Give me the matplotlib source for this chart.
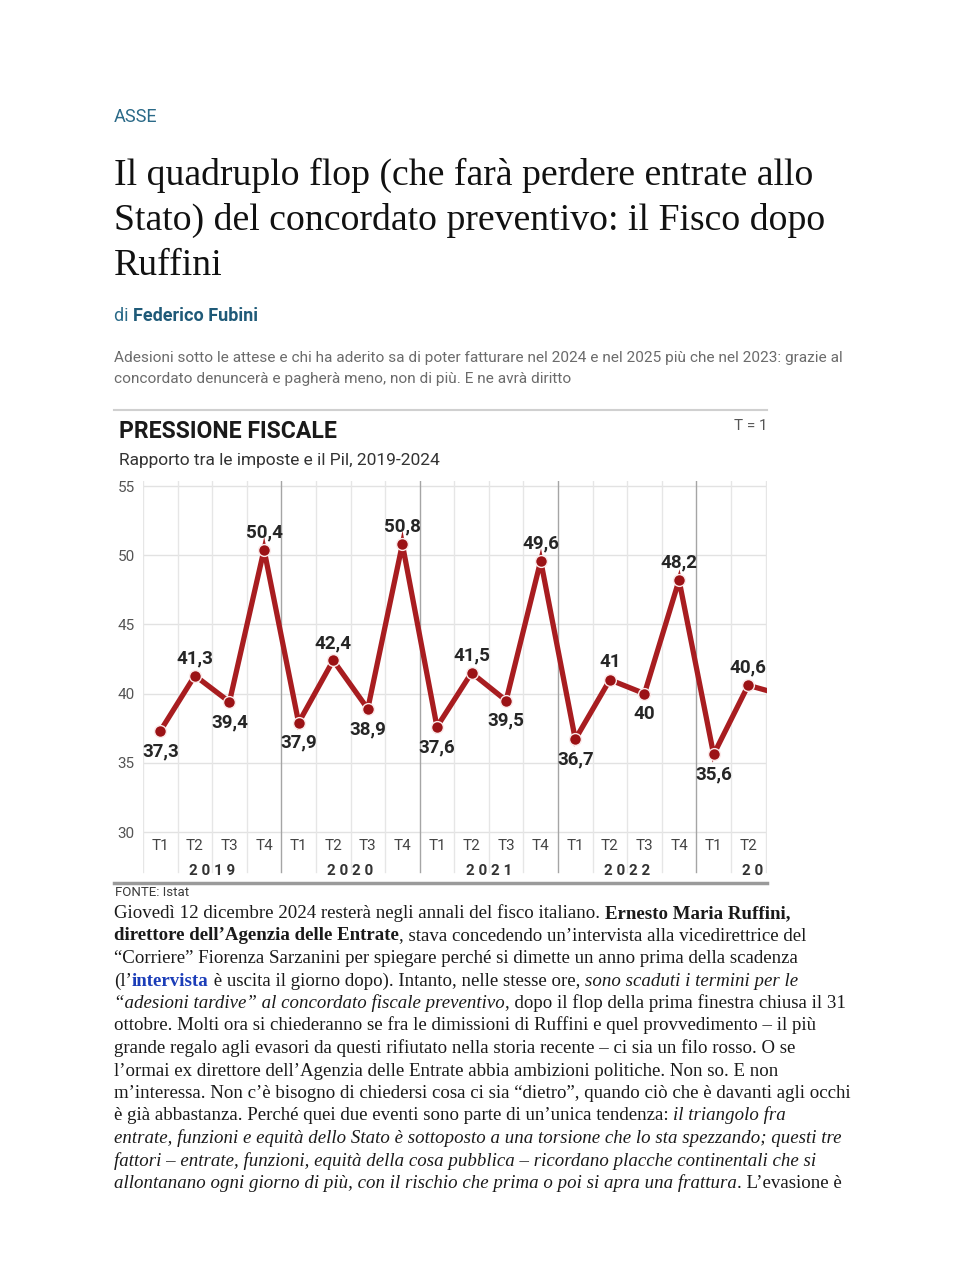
import matplotlib
matplotlib.use('Agg')
from matplotlib import pyplot as plt

# chart data (Istat, pressione fiscale trimestrale)
quarters = ["T1", "T2", "T3", "T4"] * 4 + ["T1", "T2", "T3"]
years = ["2019", "2020", "2021", "2022", "2023"]
values = [37.3, 41.3, 39.4, 50.4, 37.9, 42.4, 38.9, 50.8, 37.6, 41.5, 39.5, 49.6,
          36.7, 41.0, 40.0, 48.2, 35.6, 40.6, 39.9]
labels = ["37,3", "41,3", "39,4", "50,4", "37,9", "42,4", "38,9", "50,8", "37,6",
          "41,5", "39,5", "49,6", "36,7", "41", "40", "48,2", "35,6", "40,6"]
yticks = [30, 35, 40, 45, 50, 55]

W, H = 960, 1280
fig = plt.figure(figsize=(W / 100, H / 100), dpi=100)
fig.patch.set_facecolor('white')
r = fig.canvas.get_renderer()

SERIF = ['Liberation Serif', 'DejaVu Serif']
NARROW = ['Liberation Sans Narrow', 'Roboto', 'DejaVu Sans']
TEAL = '#2b6a88'
RED = '#a81d20'


def put(x, y, s, **kw):
    return fig.text(x / W, 1 - y / H, s, **kw)


def width(t):
    return t.get_window_extent(renderer=r).width


def fit(t, w):
    t.set_fontsize(t.get_fontsize() * w / width(t))


def seg_width(s, kw):
    a = put(0, 0, s + '|', **kw)
    b = put(0, 0, '|', **kw)
    w = width(a) - width(b)
    a.remove()
    b.remove()
    return w


# header
put(114, 117, "ASSE", family=NARROW, fontsize=13, color=TEAL, va='center')
title = ["Il quadruplo flop (che farà perdere entrate allo",
         "Stato) del concordato preventivo: il Fisco dopo",
         "Ruffini"]
t0 = put(114, 185, title[0], family=SERIF, fontsize=24, color='#111', va='baseline')
fit(t0, 700)
tsize = t0.get_fontsize()
for i, line in enumerate(title[1:]):
    put(114, 185 + 45 * (i + 1), line, family=SERIF, fontsize=tsize, color='#111', va='baseline')

put(114, 316, "di ", family=NARROW, fontsize=13, color=TEAL, va='center')
put(114 + seg_width("di ", dict(family=NARROW, fontsize=13)), 316, "Federico Fubini",
    family=NARROW, fontsize=13, fontweight='bold', color='#1f5a78', va='center')

summary = ["Adesioni sotto le attese e chi ha aderito sa di poter fatturare nel 2024 e nel 2025 più che nel 2023: grazie al",
           "concordato denuncerà e pagherà meno, non di più. E ne avrà diritto"]
s0 = put(114, 358, summary[0], family=NARROW, fontsize=12, color='#6b6b6b', va='center')
fit(s0, 728)
put(114, 379, summary[1], family=NARROW, fontsize=s0.get_fontsize(), color='#6b6b6b', va='center')

# chart frame
fig.add_artist(plt.Line2D([114 / W, 767 / W], [1 - 410 / H, 1 - 410 / H], color='#d0d0d0', lw=1.5))
fig.add_artist(plt.Line2D([114 / W, 767 / W], [1 - 883 / H, 1 - 883 / H], color='#9a9a9a', lw=2.5))
p = put(119, 432, "PRESSIONE FISCALE", family=NARROW, fontsize=20, fontweight='bold', color='#1a1a1a', va='center')
fit(p, 217)
put(767, 426, "T = 1", family=NARROW, fontsize=11, color='#555', va='center', ha='right')
put(119, 461, "Rapporto tra le imposte e il Pil, 2019-2024", family=NARROW, fontsize=12.5, color='#333', va='center')
put(115, 893, "FONTE: Istat", family=NARROW, fontsize=9.5, color='#3a3a3a', va='center')

# plot area
ppu = 13.84
ytop = 55 + (486 - 481) / ppu
ybot = 30 - (882 - 832) / ppu
ax = fig.add_axes([143 / W, 1 - 882 / H, 624 / W, (882 - 481) / H])
ax.set_xlim(-0.5, (767 - 160) / 34.6)
ax.set_ylim(ybot, ytop)
for s in ax.spines.values():
    s.set_visible(False)
ax.set_xticks([])
ax.set_yticks(yticks)
ax.set_yticklabels([str(v) for v in yticks], family=NARROW, fontsize=11, color='#555')
ax.tick_params(axis='y', length=0, pad=6)

yvl = 30 - (872 - 832) / ppu
for v in yticks:
    ax.plot([-0.5, 20], [v, v], color='#e2e2e2', lw=1, zorder=1)
for i in range(len(values)):
    b = i - 0.5
    if i % 4 == 0 and i > 0:
        ax.plot([b, b], [yvl, ytop], color='#a5a5a5', lw=1, zorder=1)
    else:
        ax.plot([b, b], [yvl, ytop], color='#e6e6e6', lw=1, zorder=1)

xs = list(range(len(values)))
ax.plot(xs, values, color=RED, lw=3.8, zorder=3, solid_joinstyle='miter', clip_on=True)
ax.plot(xs, values, 'o', color='#9b1215', markersize=8.5, markeredgecolor='#fbe9e9',
        markeredgewidth=1.0, zorder=4)

for i, lab in enumerate(labels):
    if quarters[i] in ("T2", "T4"):
        dy = 12.5
    else:
        dy = -14.5
    ax.annotate(lab, (i, values[i]), xytext=(0, dy), textcoords='offset points',
                ha='center', va='center', family=NARROW, fontsize=13.5,
                fontweight='bold', color='#262626', zorder=5)

yq = 30 - (846 - 832) / ppu
yy = 30 - (871 - 832) / ppu
for i, q in enumerate(quarters):
    ax.text(i, yq, q, ha='center', va='center', family=NARROW, fontsize=11,
            color='#444', clip_on=True)
for k, y in enumerate(years):
    ax.text(4 * k + 1.5, yy, " ".join(y), ha='center', va='center', family=NARROW,
            fontsize=11, fontweight='bold', color='#333', clip_on=True)

# body text
N = dict(family=SERIF, color='#1a1a1a')
B = dict(family=SERIF, color='#1a1a1a', fontweight='bold')
I = dict(family=SERIF, color='#1a1a1a', style='italic')
L = dict(family=SERIF, color='#1b3db8', fontweight='bold')
body = [
    [("Giovedì 12 dicembre 2024 resterà negli annali del fisco italiano. ", N), ("Ernesto Maria Ruffini,", B)],
    [("direttore dell’Agenzia delle Entrate", B), (", stava concedendo un’intervista alla vicedirettrice del", N)],
    [("“Corriere” Fiorenza Sarzanini per spiegare perché si dimette un anno prima della scadenza", N)],
    [("(l’", N), ("intervista", L), (" è uscita il giorno dopo). Intanto, nelle stesse ore, ", N), ("sono scaduti i termini per le", I)],
    [("“adesioni tardive” al concordato fiscale preventivo", I), (", dopo il flop della prima finestra chiusa il 31", N)],
    [("ottobre. Molti ora si chiederanno se fra le dimissioni di Ruffini e quel provvedimento – il più", N)],
    [("grande regalo agli evasori da questi rifiutato nella storia recente – ci sia un filo rosso. O se", N)],
    [("l’ormai ex direttore dell’Agenzia delle Entrate abbia ambizioni politiche. Non so. E non", N)],
    [("m’interessa. Non c’è bisogno di chiedersi cosa ci sia “dietro”, quando ciò che è davanti agli occhi", N)],
    [("è già abbastanza. Perché quei due eventi sono parte di un’unica tendenza: ", N), ("il triangolo fra", I)],
    [("entrate, funzioni e equità dello Stato è sottoposto a una torsione che lo sta spezzando; questi tre", I)],
    [("fattori – entrate, funzioni, equità della cosa pubblica – ricordano placche continentali che si", I)],
    [("allontanano ogni giorno di più, con il rischio che prima o poi si apra una frattura", I), (". L’evasione è", N)],
]
ref = put(0, 0, body[8][0][0], fontsize=12, **N)
bsize = 12 * 734 / width(ref)
ref.remove()

for k, line in enumerate(body):
    x = 114
    yb = 918 + 22.5 * k
    for s, st in line:
        kw = dict(st, fontsize=bsize)
        put(x, yb, s, va='baseline', **kw)
        x += seg_width(s, kw)

fig.savefig('out.png', dpi=100, facecolor='white')
